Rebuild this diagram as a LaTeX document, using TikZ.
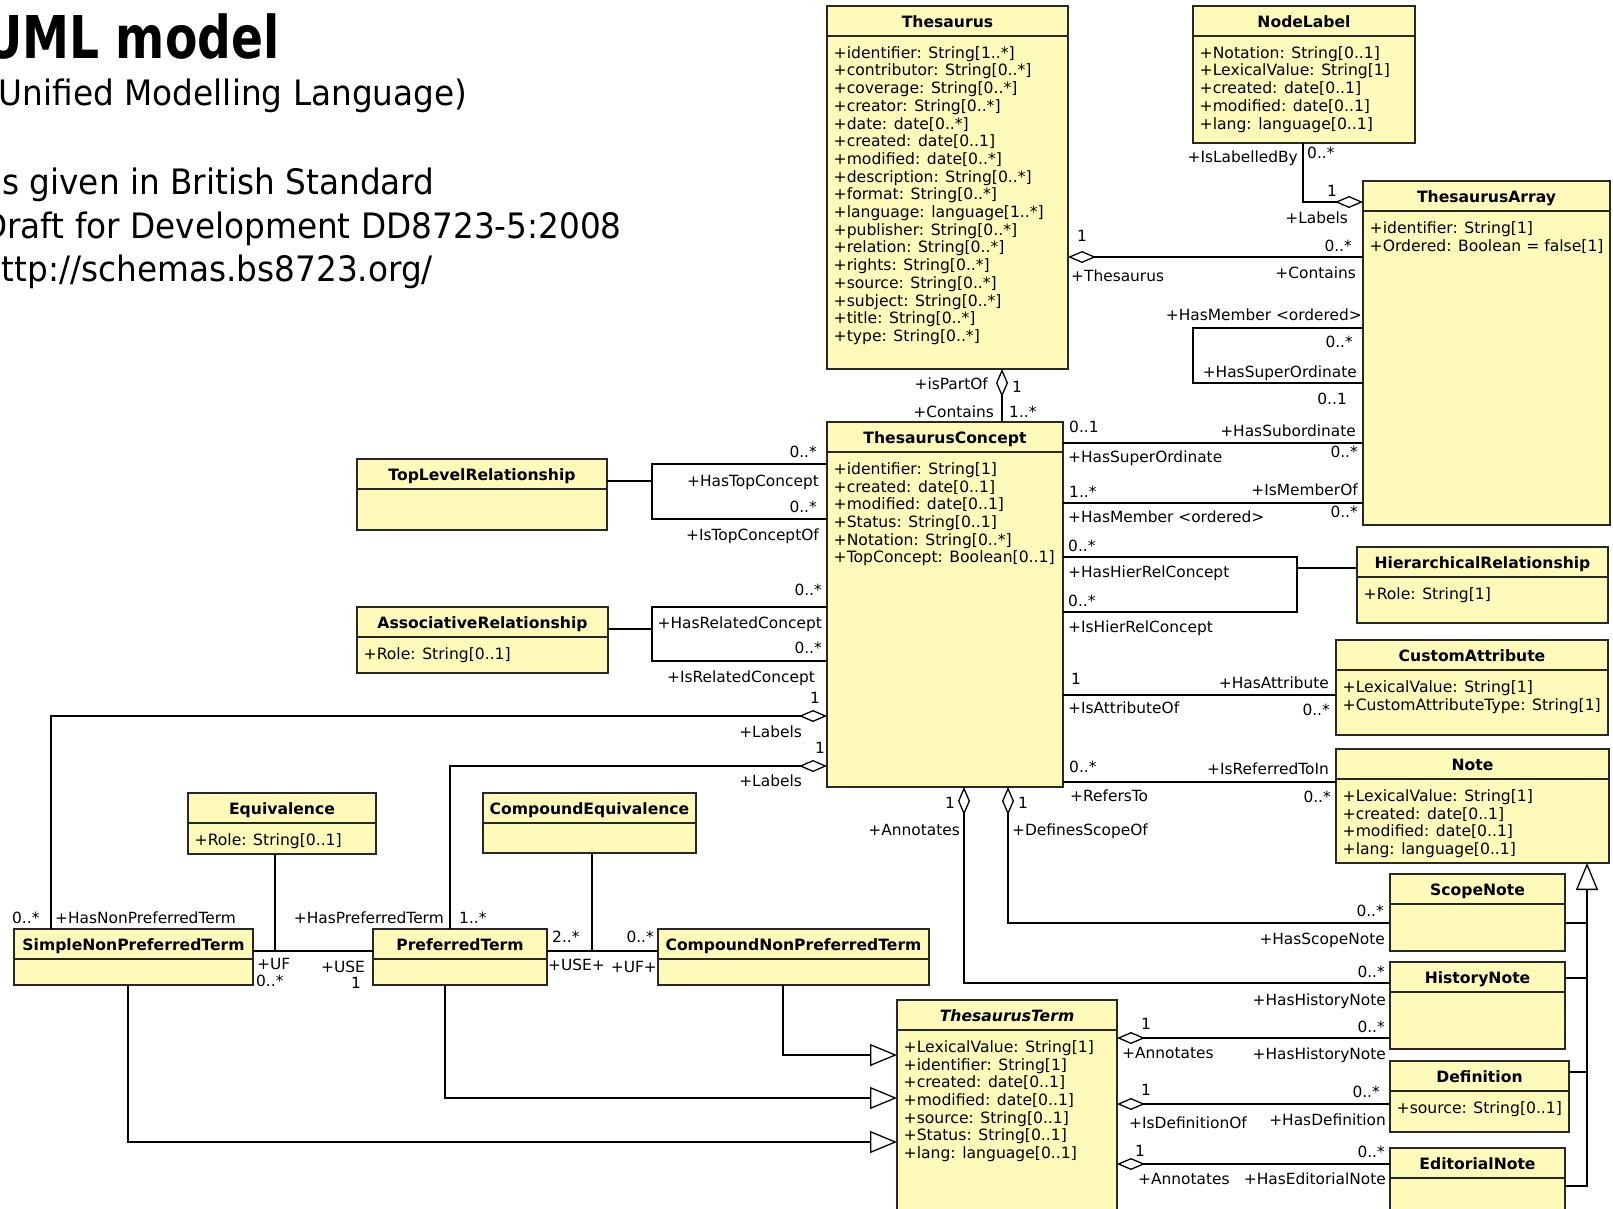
\documentclass[tikz,border=0pt]{standalone}
\usepackage{fontspec}
\usepackage{graphicx}
\setmainfont{DejaVu Sans}
\usetikzlibrary{arrows.meta}

\definecolor{classfill}{RGB}{254,250,186}
\definecolor{classedge}{RGB}{40,40,40}

\tikzset{
  classbox/.style={rectangle, draw=classedge, fill=classfill, line width=1.5pt, inner sep=0pt, outer sep=0pt},
  boxline/.style={draw=classedge, line width=1.5pt},
  titletext/.style={font=\fontsize{15.6}{17.7}\selectfont\bfseries, inner sep=0pt},
  attrtext/.style={font=\fontsize{15.6}{17.7}\selectfont, inner sep=0pt},
  lbl/.style={font=\fontsize{15.4}{17.7}\selectfont, inner sep=0pt, yshift=-3pt},
  link/.style={draw=black, line width=1.3pt},
  agg/.style={link, arrows={{Diamond[fill=white,length=28pt,width=12pt]}-}},
  gen/.style={link, arrows={-{Triangle[fill=white,length=27pt,width=22pt]}}},
}

% class box: name, x1, y1, x2, y2, header line y, title, attribute rows
\newcommand\umlclass[8]{%
  \pgfmathsetmacro\umlw{#4-#2}%
  \pgfmathsetmacro\umlh{#5-#3}%
  \node[classbox, minimum width=\umlw pt, minimum height=\umlh pt, anchor=north west] (#1) at (#2,#3) {};
  \draw[boxline] (#1.west |- 0,#6) -- (#1.east |- 0,#6);
  \node[titletext, anchor=base] (#1-title) at ({(#2+#4)/2},{(#3+#6)/2+6.2}) {#7};
  \node[attrtext, anchor=base west] (#1-attrs) at (#2+6.5,#6+22.3) {\begin{tabular}[t]{@{}l@{}}#8\end{tabular}};
}

\begin{document}
\begin{tikzpicture}[x=1pt, y=-1pt]
\useasboundingbox (0,0) rectangle (1613,1209);
\clip (0,0) rectangle (1613,1209);
\fill[white] (0,0) rectangle (1613,1209);

% heading text
\node[anchor=base west, inner sep=0pt, font=\fontsize{59}{60}\selectfont\bfseries] (heading) at (-16,58.5) {\scalebox{0.8}[1]{UML model}};
\node[anchor=base west, inner sep=0pt, font=\fontsize{35}{40}\selectfont] (sub1) at (-14,106) {\scalebox{0.935}[1]{(Unified Modelling Language)}};
\node[anchor=base west, inner sep=0pt, font=\fontsize{35}{40}\selectfont] (sub2) at (-18,195) {\scalebox{0.935}[1]{as given in British Standard}};
\node[anchor=base west, inner sep=0pt, font=\fontsize{35}{40}\selectfont] (sub3) at (-18,238) {\scalebox{0.935}[1]{Draft for Development DD8723-5:2008}};
\node[anchor=base west, inner sep=0pt, font=\fontsize{35}{40}\selectfont] (sub4) at (-19,281) {\scalebox{0.935}[1]{http://schemas.bs8723.org/}};

% classes
\umlclass{th}{827}{6}{1068}{369}{36}{Thesaurus}{%
+identifier: String[1..*]\\+contributor: String[0..*]\\+coverage: String[0..*]\\+creator: String[0..*]\\%
+date: date[0..*]\\+created: date[0..1]\\+modified: date[0..*]\\+description: String[0..*]\\%
+format: String[0..*]\\+language: language[1..*]\\+publisher: String[0..*]\\+relation: String[0..*]\\%
+rights: String[0..*]\\+source: String[0..*]\\+subject: String[0..*]\\+title: String[0..*]\\+type: String[0..*]}
\umlclass{nl}{1193}{6}{1415}{143}{36}{NodeLabel}{%
+Notation: String[0..1]\\+LexicalValue: String[1]\\+created: date[0..1]\\+modified: date[0..1]\\+lang: language[0..1]}
\umlclass{ta}{1363}{181}{1610}{525}{211}{ThesaurusArray}{%
+identifier: String[1]\\+Ordered: Boolean = false[1]}
\umlclass{tc}{827}{422}{1063}{787}{452}{ThesaurusConcept}{%
+identifier: String[1]\\+created: date[0..1]\\+modified: date[0..1]\\+Status: String[0..1]\\%
+Notation: String[0..*]\\+TopConcept: Boolean[0..1]}
\umlclass{tlr}{357}{459}{607}{530}{489}{TopLevelRelationship}{}
\umlclass{ar}{357}{607}{608}{673}{637}{AssociativeRelationship}{+Role: String[0..1]}
\umlclass{hr}{1357}{547}{1608}{623}{577}{HierarchicalRelationship}{+Role: String[1]}
\umlclass{ca}{1336}{640}{1608}{735}{670}{CustomAttribute}{%
+LexicalValue: String[1]\\+CustomAttributeType: String[1]}
\umlclass{note}{1336}{749}{1609}{863}{779}{Note}{%
+LexicalValue: String[1]\\+created: date[0..1]\\+modified: date[0..1]\\+lang: language[0..1]}
\umlclass{sn}{1390}{874}{1565}{951}{904}{ScopeNote}{}
\umlclass{hn}{1390}{962}{1565}{1049}{992}{HistoryNote}{}
\umlclass{def}{1390}{1061}{1569}{1132}{1091}{Definition}{+source: String[0..1]}
\umlclass{en}{1390}{1148}{1565}{1220}{1178}{EditorialNote}{}
\umlclass{tt}{897}{1000}{1117}{1220}{1030}{\textit{ThesaurusTerm}}{%
+LexicalValue: String[1]\\+identifier: String[1]\\+created: date[0..1]\\+modified: date[0..1]\\%
+source: String[0..1]\\+Status: String[0..1]\\+lang: language[0..1]}
\umlclass{eq}{188}{793}{376}{854}{823}{Equivalence}{+Role: String[0..1]}
\umlclass{ce}{483}{793}{696}{853}{823}{CompoundEquivalence}{}
\umlclass{snpt}{14}{929}{253}{985}{959}{SimpleNonPreferredTerm}{}
\umlclass{pt}{373}{929}{547}{985}{959}{PreferredTerm}{}
\umlclass{cnpt}{658}{929}{929}{985}{959}{CompoundNonPreferredTerm}{}

% Thesaurus -- ThesaurusConcept
\draw[agg] (th.south -| 1002,0) -- (tc.north -| 1002,0);
\node[lbl, anchor=mid east] (thtc1) at (988,384) {+isPartOf};
\node[lbl, anchor=mid west] (thtc2) at (1012,387) {1};
\node[lbl, anchor=mid east] (thtc3) at (994,412) {+Contains};
\node[lbl, anchor=mid west] (thtc4) at (1009,412) {1..*};

% Thesaurus -- ThesaurusArray
\draw[agg] (th.east |- 0,257) -- (ta.west |- 0,257);
\node[lbl, anchor=mid] (thta1) at (1082,236) {1};
\node[lbl, anchor=mid west] (thta2) at (1071,276) {+Thesaurus};
\node[lbl, anchor=mid east] (thta3) at (1352,246) {0..*};
\node[lbl, anchor=mid east] (thta4) at (1356,273) {+Contains};

% NodeLabel -- ThesaurusArray
\draw[agg] (ta.west |- 0,202) -| (nl.south -| 1303,0);
\node[lbl, anchor=mid east] (nlta1) at (1298,157) {+IsLabelledBy};
\node[lbl, anchor=mid west] (nlta2) at (1307,153) {0..*};
\node[lbl, anchor=mid] (nlta3) at (1332,191) {1};
\node[lbl, anchor=mid east] (nlta4) at (1348,218) {+Labels};

% ThesaurusArray self association
\draw[link] (ta.west |- 0,328) -| (1193,383) -- (ta.west |- 0,383);
\node[lbl, anchor=mid east] (taself1) at (1362,315) {+HasMember <ordered>};
\node[lbl, anchor=mid east] (taself2) at (1353,342) {0..*};
\node[lbl, anchor=mid east] (taself3) at (1357,372) {+HasSuperOrdinate};
\node[lbl, anchor=mid east] (taself4) at (1347,399) {0..1};

% ThesaurusConcept -- ThesaurusArray
\draw[link] (tc.east |- 0,443) -- (ta.west |- 0,443);
\node[lbl, anchor=mid west] (tcta1) at (1069,427) {0..1};
\node[lbl, anchor=mid west] (tcta2) at (1068,457) {+HasSuperOrdinate};
\node[lbl, anchor=mid east] (tcta3) at (1356,431) {+HasSubordinate};
\node[lbl, anchor=mid east] (tcta4) at (1358,452) {0..*};
\draw[link] (tc.east |- 0,503) -- (ta.west |- 0,503);
\node[lbl, anchor=mid west] (tcta5) at (1069,492) {1..*};
\node[lbl, anchor=mid west] (tcta6) at (1068,517) {+HasMember <ordered>};
\node[lbl, anchor=mid east] (tcta7) at (1358,490) {+IsMemberOf};
\node[lbl, anchor=mid east] (tcta8) at (1358,512) {0..*};

% hierarchical self association with its association class
\draw[link] (tc.east |- 0,557) -| (1297,612) -- (tc.east |- 0,612);
\coordinate (hrloop) at (1297,568);
\draw[link] (hrloop) -- (hr.west |- hrloop);
\node[lbl, anchor=mid west] (hier1) at (1068,546) {0..*};
\node[lbl, anchor=mid west] (hier2) at (1068,572) {+HasHierRelConcept};
\node[lbl, anchor=mid west] (hier3) at (1068,601) {0..*};
\node[lbl, anchor=mid west] (hier4) at (1068,627) {+IsHierRelConcept};

% ThesaurusConcept -- CustomAttribute
\draw[link] (tc.east |- 0,695) -- (ca.west |- 0,695);
\node[lbl, anchor=mid west] (tcca1) at (1071,679) {1};
\node[lbl, anchor=mid west] (tcca2) at (1068,708) {+IsAttributeOf};
\node[lbl, anchor=mid east] (tcca3) at (1329,683) {+HasAttribute};
\node[lbl, anchor=mid east] (tcca4) at (1330,710) {0..*};

% ThesaurusConcept -- Note
\draw[link] (tc.east |- 0,782) -- (note.west |- 0,782);
\node[lbl, anchor=mid west] (tcno1) at (1069,767) {0..*};
\node[lbl, anchor=mid west] (tcno2) at (1070,796) {+RefersTo};
\node[lbl, anchor=mid east] (tcno3) at (1329,769) {+IsReferredToIn};
\node[lbl, anchor=mid east] (tcno4) at (1331,797) {0..*};

% top level relationship
\draw[link] (tc.west |- 0,464) -| (652,519) -- (tc.west |- 0,519);
\draw[link] (tlr.east |- 0,481) -- (652,481);
\node[lbl, anchor=mid east] (top1) at (817,452) {0..*};
\node[lbl, anchor=mid east] (top2) at (819,481) {+HasTopConcept};
\node[lbl, anchor=mid east] (top3) at (817,507) {0..*};
\node[lbl, anchor=mid east] (top4) at (819,535) {+IsTopConceptOf};

% associative relationship
\draw[link] (tc.west |- 0,607) -| (652,661) -- (tc.west |- 0,661);
\draw[link] (ar.east |- 0,629) -- (652,629);
\node[lbl, anchor=mid east] (rel1) at (822,590) {0..*};
\node[lbl, anchor=mid east] (rel2) at (822,623) {+HasRelatedConcept};
\node[lbl, anchor=mid east] (rel3) at (822,648) {0..*};
\node[lbl, anchor=mid east] (rel4) at (815,677) {+IsRelatedConcept};

% concept labels: non-preferred and preferred terms
\draw[agg] (tc.west |- 0,716) -| (snpt.north -| 51,0);
\node[lbl, anchor=mid] (lab1) at (815,698) {1};
\node[lbl, anchor=mid east] (lab2) at (802,732) {+Labels};
\node[lbl, anchor=mid west] (lab3) at (12,918) {0..*};
\node[lbl, anchor=mid west] (lab4) at (55,918) {+HasNonPreferredTerm};
\draw[agg] (tc.west |- 0,766) -| (pt.north -| 450,0);
\node[lbl, anchor=mid] (lab5) at (820,748) {1};
\node[lbl, anchor=mid east] (lab6) at (802,781) {+Labels};
\node[lbl, anchor=mid east] (lab7) at (444,918) {+HasPreferredTerm};
\node[lbl, anchor=mid west] (lab8) at (459,918) {1..*};

% equivalence
\draw[link] (snpt.east |- 0,951) -- (pt.west |- 0,951);
\coordinate (eqjoin) at (275,951);
\draw[link] (eq.south -| eqjoin) -- (eqjoin);
\node[lbl, anchor=mid west] (eqv1) at (257,964) {+UF};
\node[lbl, anchor=mid west] (eqv2) at (256,981) {0..*};
\node[lbl, anchor=mid east] (eqv3) at (365,967) {+USE};
\node[lbl, anchor=mid east] (eqv4) at (361,983) {1};

% compound equivalence
\draw[link] (pt.east |- 0,951) -- (cnpt.west |- 0,951);
\coordinate (cejoin) at (592,951);
\draw[link] (ce.south -| cejoin) -- (cejoin);
\node[lbl, anchor=mid west] (ceq1) at (552,937) {2..*};
\node[lbl, anchor=mid west] (ceq2) at (548,965) {+USE+};
\node[lbl, anchor=mid east] (ceq3) at (654,937) {0..*};
\node[lbl, anchor=mid east] (ceq4) at (657,967) {+UF+};

% term specialisations
\draw[gen] (cnpt.south -| 783,0) |- (tt.west |- 0,1055);
\draw[gen] (pt.south -| 445,0) |- (tt.west |- 0,1098);
\draw[gen] (snpt.south -| 128,0) |- (tt.west |- 0,1142);

% concept notes
\draw[agg] (tc.south -| 964,0) |- (hn.west |- 0,983);
\node[lbl, anchor=mid east] (ann1) at (955,803) {1};
\node[lbl, anchor=mid east] (ann2) at (960,830) {+Annotates};
\node[lbl, anchor=mid east] (ann3) at (1385,972) {0..*};
\node[lbl, anchor=mid east] (ann4) at (1386,1000) {+HasHistoryNote};
\draw[agg] (tc.south -| 1008,0) |- (sn.west |- 0,923);
\node[lbl, anchor=mid west] (scp1) at (1018,803) {1};
\node[lbl, anchor=mid west] (scp2) at (1012,830) {+DefinesScopeOf};
\node[lbl, anchor=mid east] (scp3) at (1384,911) {0..*};
\node[lbl, anchor=mid east] (scp4) at (1385,939) {+HasScopeNote};

% term notes
\draw[agg] (tt.east |- 0,1038) -- (hn.west |- 0,1038);
\node[lbl, anchor=mid] (tth1) at (1146,1024) {1};
\node[lbl, anchor=mid east] (tth2) at (1385,1027) {0..*};
\node[lbl, anchor=mid west] (tth3) at (1122,1053) {+Annotates};
\node[lbl, anchor=mid east] (tth4) at (1386,1054) {+HasHistoryNote};
\draw[agg] (tt.east |- 0,1104) -- (def.west |- 0,1104);
\node[lbl, anchor=mid] (ttd1) at (1146,1090) {1};
\node[lbl, anchor=mid east] (ttd2) at (1380,1092) {0..*};
\node[lbl, anchor=mid west] (ttd3) at (1129,1123) {+IsDefinitionOf};
\node[lbl, anchor=mid east] (ttd4) at (1386,1120) {+HasDefinition};
\draw[agg] (tt.east |- 0,1164) -- (en.west |- 0,1164);
\node[lbl, anchor=mid] (tte1) at (1140,1151) {1};
\node[lbl, anchor=mid east] (tte2) at (1385,1152) {0..*};
\node[lbl, anchor=mid west] (tte3) at (1138,1179) {+Annotates};
\node[lbl, anchor=mid east] (tte4) at (1386,1179) {+HasEditorialNote};

% note specialisations
\draw[gen] (en.east |- 0,1186) -| (note.south -| 1587,0);
\draw[link] (sn.east |- 0,923) -- (1587,923);
\draw[link] (hn.east |- 0,978) -- (1587,978);
\draw[link] (def.east |- 0,1072) -- (1587,1072);
\end{tikzpicture}
\end{document}
